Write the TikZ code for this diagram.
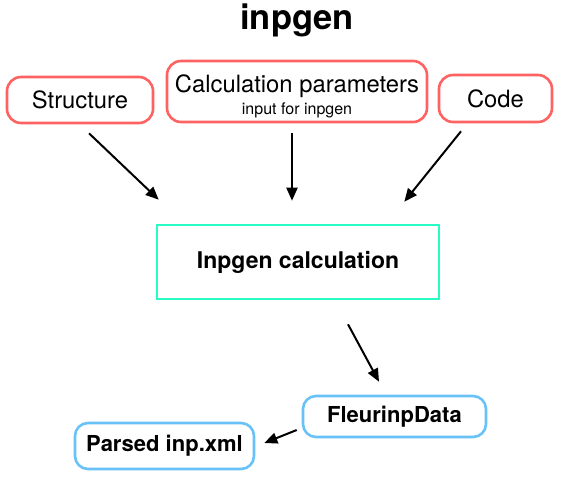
\documentclass[tikz,border=0pt]{standalone}
\usepackage{fontspec}
\setmainfont{TeX Gyre Heros}
\usetikzlibrary{arrows.meta}
\definecolor{inred}{RGB}{255,98,98}
\definecolor{inteal}{RGB}{40,252,198}
\definecolor{inblue}{RGB}{104,194,248}

\begin{document}
\begin{tikzpicture}[x=1pt,y=1pt,
  inbox/.style={draw=inred,line width=2.6pt,rounded corners=14pt,inner sep=0pt,
    font=\fontsize{23.8}{27}\selectfont},
  calcbox/.style={draw=inteal,line width=2.6pt,inner sep=0pt,
    font=\bfseries\fontsize{23}{27}\selectfont},
  outbox/.style={draw=inblue,line width=2.6pt,rounded corners=13pt,inner sep=0pt,
    font=\bfseries\fontsize{22}{26}\selectfont},
  flow/.style={line width=2pt,-{Triangle[length=13pt,width=11pt]}}]
\useasboundingbox (0,0) rectangle (565,-488);
\node (title) [anchor=base,font=\bfseries\fontsize{34.5}{40}\selectfont] at (297,-29) {inpgen};
% inputs
\node (struct) [inbox,minimum width=146pt,minimum height=46pt] at (80,-100) {Structure};
\node (params) [inbox,minimum width=260pt,minimum height=61pt,align=center] at (297,-91.5)
  {\rule{0pt}{28pt}Calculation parameters\\[-5pt]{\fontsize{16}{18}\selectfont input for inpgen}};
\node (code) [inbox,minimum width=113pt,minimum height=47pt] at (495.5,-98.5) {Code};
% calculation
\node (calc) [calcbox,minimum width=282pt,minimum height=74pt] at (298,-262) {Inpgen calculation};
% outputs
\node (fleur) [outbox,minimum width=183pt,minimum height=41pt] at (394.5,-416.5) {FleurinpData};
\node (parsed) [outbox,minimum width=179pt,minimum height=46pt] at (164.5,-446) {Parsed inp.xml};
\draw [flow] ([xshift=9pt,yshift=-9pt]struct.south) -- ([xshift=3pt,yshift=24pt]calc.north west);
\draw [flow] ([xshift=-5pt,yshift=-10pt]params.south) -- ([xshift=-6pt,yshift=23pt]calc.north);
\draw [flow] ([xshift=-34.5pt,yshift=-8pt]code.south) -- ([xshift=-36pt,yshift=22pt]calc.north east);
\draw [flow] ([xshift=50pt,yshift=-24pt]calc.south) -- ([xshift=-15.5pt,yshift=13pt]fleur.north);
\draw [flow] ([xshift=-5pt,yshift=-13.5pt]fleur.west) -- ([xshift=9pt,yshift=3pt]parsed.east);
\end{tikzpicture}
\end{document}
